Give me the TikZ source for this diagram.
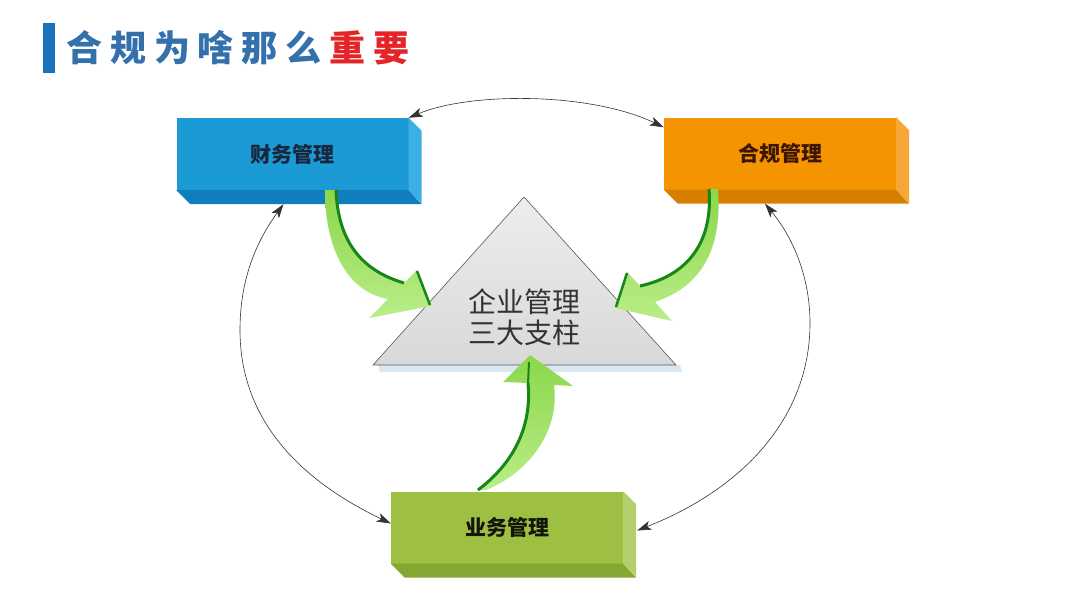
\documentclass[tikz,border=0pt]{standalone}
\usepackage{fontspec}
\setmainfont{Liberation Sans}
\newfontfamily\cjk{Noto Sans CJK SC}
\newfontfamily\titlecjk{Noto Sans CJK SC}[LetterSpace=22]
\usetikzlibrary{arrows.meta,calc}
\definecolor{bfront}{RGB}{27,154,214}
\definecolor{bbot}{RGB}{16,125,188}
\definecolor{bside}{RGB}{60,176,230}
\definecolor{ofront}{RGB}{243,148,0}
\definecolor{obot}{RGB}{214,126,0}
\definecolor{oside}{RGB}{246,167,56}
\definecolor{gfront}{RGB}{157,192,67}
\definecolor{gbot}{RGB}{132,166,51}
\definecolor{gside}{RGB}{180,207,107}
\definecolor{arrG}{RGB}{140,214,76}
\definecolor{arrL}{RGB}{185,238,135}
\definecolor{arrD}{RGB}{22,135,22}
\definecolor{titleblue}{RGB}{52,112,172}
\definecolor{titlered}{RGB}{228,36,38}
\definecolor{barblue}{RGB}{26,114,187}
\definecolor{shadowc}{RGB}{218,230,242}
\tikzset{
  pbox/.style={rectangle, minimum width=232pt, minimum height=72pt, inner sep=0pt,
    font=\cjk\bfseries\fontsize{21}{21}\selectfont},
  thinarc/.style={black!80, line width=0.6pt, {Stealth[length=14pt,width=9pt,inset=3.5pt]}-{Stealth[length=14pt,width=9pt,inset=3.5pt]}},
  fatarrow/.style={top color=arrG, bottom color=arrL},
  darkedge/.style={arrD, line width=3pt},
}
\begin{document}
\begin{tikzpicture}[x=1pt,y=-1pt]
\useasboundingbox (0,0) rectangle (1080,608);
\fill[white] (0,0) rectangle (1080,608);
% title
\fill[barblue] (43,23) rectangle (55,73);
\node[anchor=west, inner sep=0pt, font=\titlecjk\bfseries\fontsize{36}{36}\selectfont] (title) at (66,48)
  {\textcolor{titleblue}{合规为啥那么}\kern7.9pt\textcolor{titlered}{重要}};
% boxes
\node[pbox, fill=bfront, text={rgb,255:red,25;green,38;blue,60}] (fin) at (292.5,154) {财务管理};
\fill[bbot] (fin.south west) -- (fin.south east) -- ++(13,14) -- ($(fin.south west)+(14,14)$) -- cycle;
\fill[bside] (fin.north east) -- ++(13,13) -- ++(0,73) -- (fin.south east) -- cycle;
\node[pbox, fill=ofront, text={rgb,255:red,60;green,22;blue,0}] (comp) at (780,153.5) {合规管理};
\fill[obot] (comp.south west) -- (comp.south east) -- ++(13,14) -- ($(comp.south west)+(14,14)$) -- cycle;
\fill[oside] (comp.north east) -- ++(13,13) -- ++(0,73) -- (comp.south east) -- cycle;
\node[pbox, fill=gfront, text={rgb,255:red,20;green,20;blue,10}] (busi) at (507,527.5) {业务管理};
\fill[gbot] (busi.south west) -- (busi.south east) -- ++(13,14) -- ($(busi.south west)+(14,14)$) -- cycle;
\fill[gside] (busi.north east) -- ++(13,13) -- ++(0,73) -- (busi.south east) -- cycle;
% triangle
\coordinate (apex) at (524,197);
\coordinate (bl) at (373,365);
\coordinate (br) at (676,365);
\fill[shadowc] (378,365) -- (680,365) -- (682,372) -- (380,372) -- cycle;
\shade[top color=black!7, middle color=white, bottom color=black!15] (apex) -- (br) -- (bl) -- cycle;
\draw[black!65, line width=0.6pt] (apex) -- (br) -- (bl) -- cycle;
\node[font=\cjk\fontsize{28}{31}\selectfont, align=center, text=black!80, inner sep=0pt] (core) at (524,317) {企业管理\\三大支柱};
% thin double arcs
\draw[thinarc] (fin.north east) .. controls (470,92) and (590,92) .. ($(comp.north west)+(0,10)$);
\draw[thinarc] ($(fin.south)+(-9,14)$) .. controls (250,250) and (240,290) .. (240,330)
  .. controls (240,420) and (300,480) .. ($(busi.west)+(0,-4)$);
\draw[thinarc] ($(comp.south)+(-15,14)$) .. controls (795,240) and (810,280) .. (810,323)
  .. controls (810,420) and (740,490) .. ($(busi.east)+(14,3)$);
% green arrow 1 (finance -> core)
\shade[fatarrow] (325,190) .. controls (325,250) and (348,292) .. (388,299) -- (369,318) -- (431,306)
  -- (417,270) -- (404,283) .. controls (360,270) and (338,240) .. (336,190) -- cycle;
\draw[darkedge] (336,190) .. controls (338,240) and (360,270) .. (404,283);
\draw[arrD, line width=2.5pt] (417,271) -- (430,305);
% green arrow 2 (compliance -> core)
\shade[fatarrow] (709,189) .. controls (713,240) and (690,275) .. (640,286) -- (627,272) -- (615,308)
  -- (672,321) -- (655,302) .. controls (705,285) and (722,245) .. (718,189) -- cycle;
\draw[darkedge] (709,189) .. controls (713,240) and (690,275) .. (640,286);
\draw[arrD, line width=2.5pt] (627,273) -- (616,307);
% green arrow 3 (business -> core)
\shade[fatarrow] (478,490) .. controls (515,462) and (532,425) .. (528,383) -- (503,382) -- (530,355)
  -- (573,386) -- (554,385) .. controls (560,430) and (530,472) .. (486,490) -- cycle;
\draw[darkedge] (478,490) .. controls (515,462) and (532,425) .. (528,383);
\draw[arrD, line width=2pt] (528,384) -- (529,362);
\end{tikzpicture}
\end{document}
